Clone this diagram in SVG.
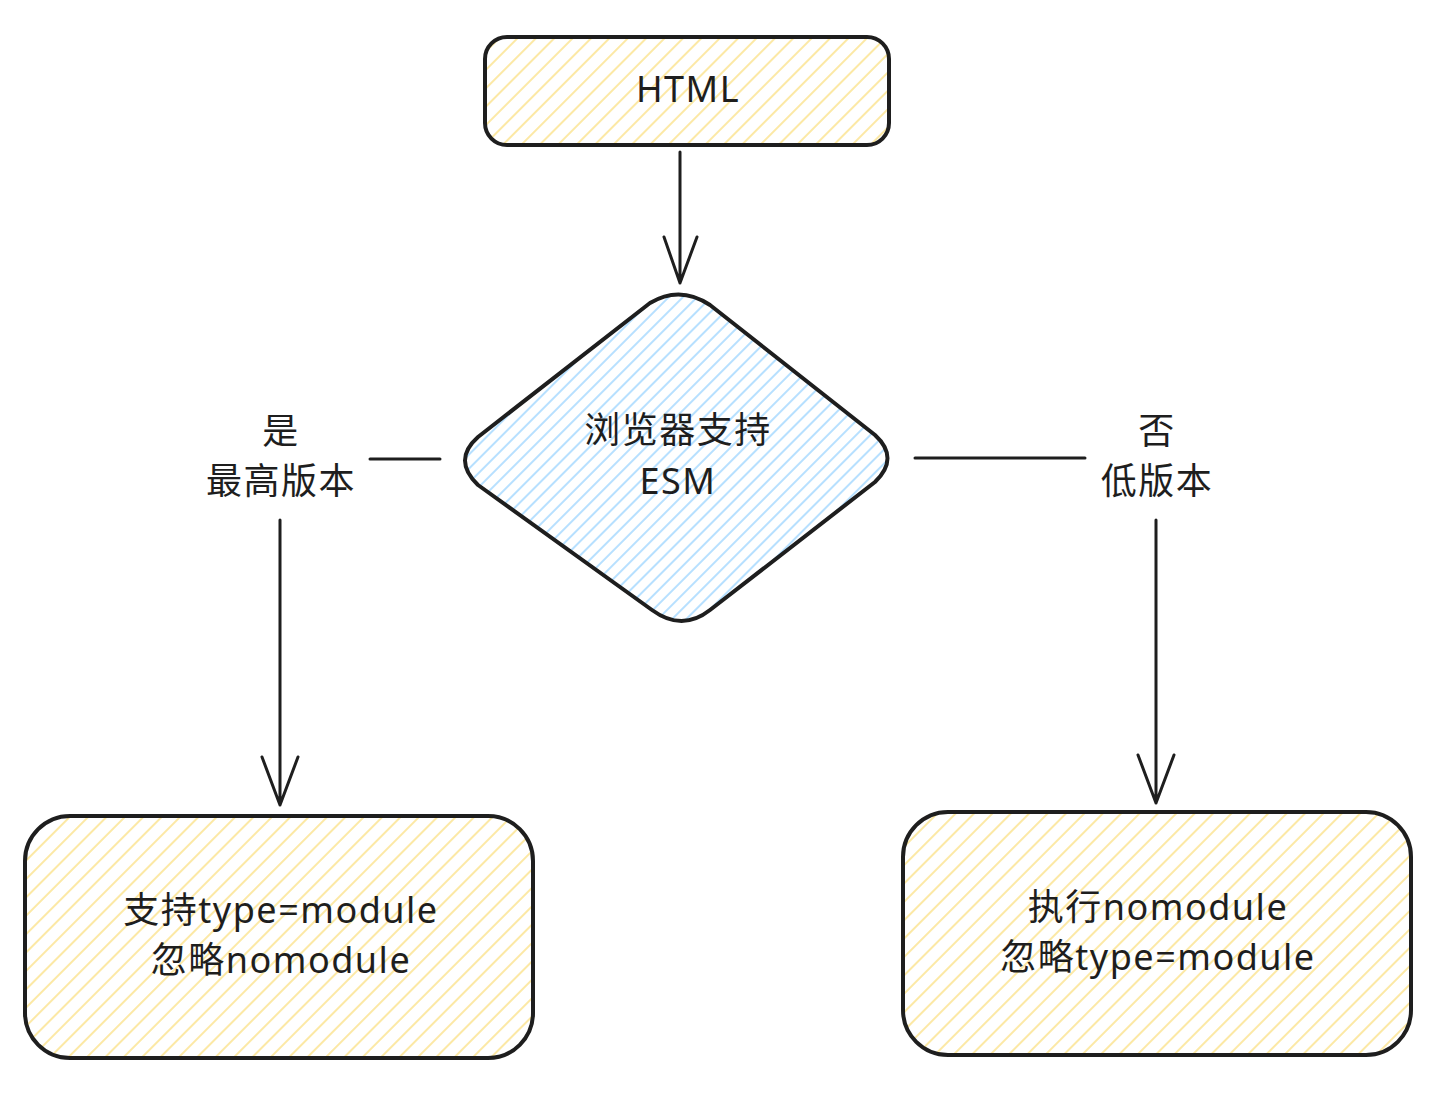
<svg xmlns="http://www.w3.org/2000/svg" width="1438" height="1100" viewBox="0 0 1438 1100">
<style>
.o{stroke:#1e1e1e;stroke-width:4;stroke-linejoin:round;stroke-linecap:round}
.c{fill:none;stroke:#1e1e1e;stroke-width:3;stroke-linecap:round;stroke-linejoin:round}
.t{font-family:"Noto Sans","Noto Sans CJK SC",sans-serif;font-size:36px;letter-spacing:1.5px;fill:#1e1e1e;text-anchor:middle}
</style>
<defs>
<pattern id="hy" width="13" height="13" patternUnits="userSpaceOnUse" patternTransform="rotate(45)">
<line x1="3" y1="0" x2="3" y2="13" stroke="#fbe38e" stroke-width="1.6"/>
</pattern>
<pattern id="hb" width="10" height="10" patternUnits="userSpaceOnUse" patternTransform="rotate(45)">
<line x1="3" y1="0" x2="3" y2="10" stroke="#a5d8ff" stroke-width="1.6"/>
</pattern>
</defs>
<rect width="1438" height="1100" fill="#ffffff"/>
<g id="node-html">
<rect x="485" y="37" width="404" height="108" rx="22" fill="url(#hy)" class="o"/>
<text x="688" y="102" class="t">HTML</text>
</g>
<g id="node-esm">
<path d="M650,303 Q680,285 710,305 L875,435 Q900,458 875,482 L710,610 Q682,632 652,610 L478,485 Q452,460 478,437 Z" fill="url(#hb)" class="o"/>
<text x="678" y="443" class="t">浏览器支持</text>
<text x="678" y="494" class="t">ESM</text>
</g>
<g id="node-left">
<rect x="25" y="816" width="508" height="242" rx="45" fill="url(#hy)" class="o"/>
<text x="281" y="923" class="t">支持type=module</text>
<text x="281" y="973" class="t">忽略nomodule</text>
</g>
<g id="node-right">
<rect x="903" y="812" width="508" height="243" rx="45" fill="url(#hy)" class="o"/>
<text x="1158" y="920" class="t">执行nomodule</text>
<text x="1158" y="970" class="t">忽略type=module</text>
</g>
<g id="connectors">
<path class="c" d="M680,152 L680,283 M664,237 L680,283 L697,237"/>
<path class="c" d="M370,459 L440,459"/>
<path class="c" d="M280,520 L280,805 M262,757 L280,805 L298,757"/>
<path class="c" d="M915,458 L1085,458"/>
<path class="c" d="M1156,520 L1156,803 M1138,755 L1156,803 L1174,755"/>
</g>
<g id="labels">
<text x="281" y="444" class="t">是</text>
<text x="281" y="494" class="t">最高版本</text>
<text x="1157" y="444" class="t">否</text>
<text x="1157" y="494" class="t">低版本</text>
</g>
</svg>
